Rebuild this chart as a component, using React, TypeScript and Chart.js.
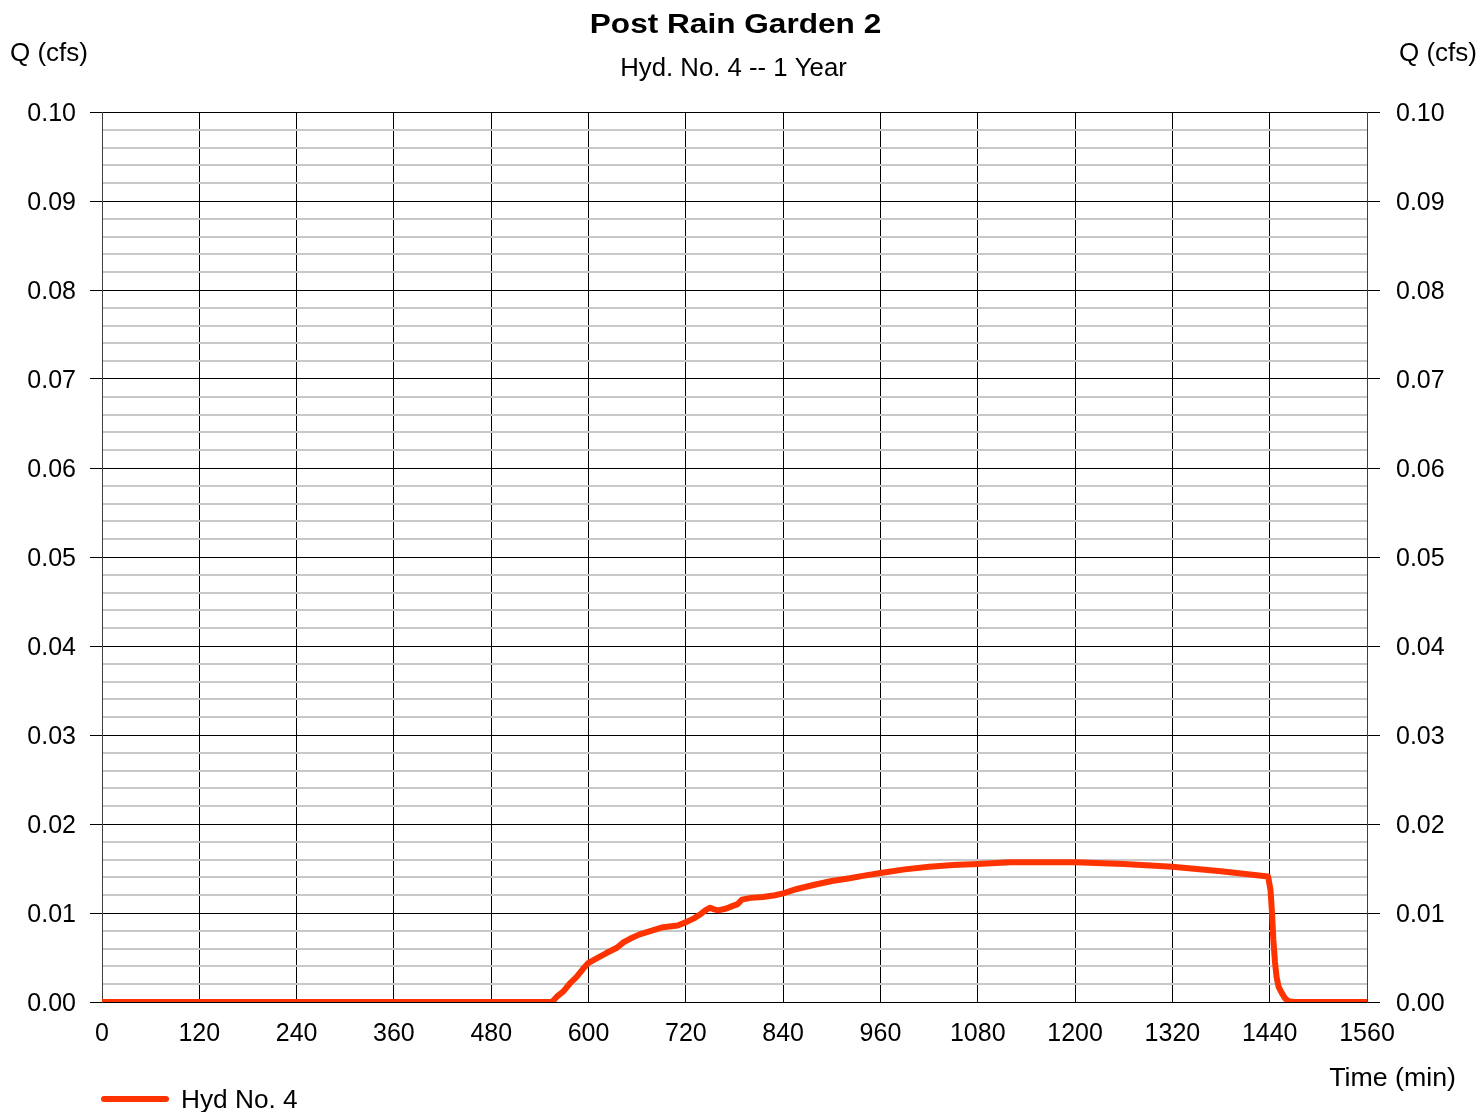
import React, { useEffect, useRef } from "react";
import { Chart, registerables } from "chart.js";

Chart.register(...registerables);

const chartTitle = "Post Rain Garden 2";
const chartSubtitle = "Hyd. No. 4 -- 1 Year";
const yAxisTitle = "Q (cfs)";
const xAxisTitle = "Time (min)";
const seriesLabel = "Hyd No. 4";

const xMin = 0;
const xMax = 1560;
const xStep = 120;
const yMin = 0;
const yMax = 0.1;
const yMinorStep = 0.002;

const timeMin = [
  0, 555, 562, 569, 577, 585, 593, 600, 610, 622, 635, 643, 651, 663, 677, 692,
  710, 721, 730, 737, 744, 750, 755, 760, 770, 778, 784, 789, 800, 815, 830, 840,
  857, 880, 900, 922, 940, 960, 990, 1020, 1050, 1080, 1120, 1157, 1200, 1260, 1320, 1380, 1438,
  1441, 1443, 1444.5, 1446.5, 1448.5, 1451, 1455, 1459, 1463, 1470, 1560,
];
const flowCfs = [
  0, 0, 0.0007, 0.0012, 0.0021, 0.0028, 0.0037, 0.0044, 0.0049, 0.0055, 0.0061,
  0.0067, 0.0071, 0.0076, 0.0080, 0.0084, 0.0086, 0.0090, 0.0094, 0.0098,
  0.0103, 0.0106, 0.0104, 0.0103, 0.0105, 0.0108, 0.0110, 0.0115, 0.0117,
  0.0118, 0.0120, 0.0122, 0.0127, 0.0132, 0.0136, 0.0139, 0.0142, 0.0145,
  0.0149, 0.0152, 0.0154, 0.0155, 0.0157, 0.0157, 0.0157, 0.0155, 0.0152, 0.0147, 0.0141,
  0.0126, 0.0098, 0.0070, 0.0045, 0.0028, 0.0017, 0.0010, 0.0004, 0.0001, 0, 0,
];

const lineColor = "#ff3300";
const FONT = "Arial, 'Liberation Sans', sans-serif";

const isMajor = (v: number) => Math.round(v * 1000) % 10 === 0;

const textPlugin = {
  id: "textPlugin",
  afterDraw(chart: any) {
    const ctx = chart.ctx as CanvasRenderingContext2D;
    const ca = chart.chartArea;
    const cx = (ca.left + ca.right) / 2;
    ctx.save();
    ctx.fillStyle = "#000";
    ctx.textBaseline = "middle";
    ctx.textAlign = "center";
    // title
    ctx.font = `bold 27px ${FONT}`;
    ctx.save();
    ctx.translate(cx + 1, ca.top - 86);
    ctx.scale(1.17, 1);
    ctx.fillText(chartTitle, 0, 0);
    ctx.restore();
    // subtitle
    ctx.font = `25px ${FONT}`;
    ctx.save();
    ctx.translate(cx - 1, ca.top - 43);
    ctx.scale(1.03, 1);
    ctx.fillText(chartSubtitle, 0, 0);
    ctx.restore();
    // y titles
    ctx.save();
    ctx.textAlign = "left";
    ctx.translate(10, ca.top - 58);
    ctx.scale(1.04, 1);
    ctx.fillText(yAxisTitle, 0, 0);
    ctx.restore();
    ctx.save();
    ctx.textAlign = "right";
    ctx.translate(chart.width - 1, ca.top - 58);
    ctx.scale(1.04, 1);
    ctx.fillText(yAxisTitle, 0, 0);
    ctx.restore();
    // x title
    ctx.save();
    ctx.textAlign = "right";
    ctx.translate(ca.right + 89, ca.bottom + 77);
    ctx.scale(1.07, 1);
    ctx.fillText(xAxisTitle, 0, 0);
    ctx.restore();
    // legend
    const ds = chart.data.datasets[0];
    const ly = ca.bottom + 97;
    ctx.strokeStyle = ds.borderColor;
    ctx.lineWidth = 6;
    ctx.lineCap = "round";
    ctx.beginPath();
    ctx.moveTo(ca.left + 2, ly);
    ctx.lineTo(ca.left + 64, ly);
    ctx.stroke();
    ctx.save();
    ctx.textAlign = "left";
    ctx.translate(ca.left + 79, ly + 2);
    ctx.scale(1.05, 1);
    ctx.fillText(ds.label, 0, 0);
    ctx.restore();
    ctx.restore();
  },
};

export default function App() {
  const ref = useRef<HTMLCanvasElement | null>(null);
  useEffect(() => {
    if (!ref.current) return;
    Chart.defaults.color = "#000";
    const points = timeMin.map((t, i) => ({ x: t, y: flowCfs[i] }));
    const yTicks = {
      stepSize: yMinorStep,
      autoSkip: false,
      labelOffset: 2,
      font: { family: FONT, size: 25 },
      color: "#000",
      callback: (v: any) => (isMajor(Number(v)) ? Number(v).toFixed(2) : ""),
    };
    const chart = new Chart(ref.current, {
      type: "line",
      data: {
        datasets: [
          {
            label: seriesLabel,
            data: points,
            borderColor: lineColor,
            backgroundColor: lineColor,
            borderWidth: 6,
            pointRadius: 0,
            tension: 0,
            borderCapStyle: "round",
            borderJoinStyle: "round",
          },
        ],
      },
      options: {
        animation: false,
        responsive: false,
        devicePixelRatio: 1,
        layout: { padding: { top: 112, left: 0, right: 0, bottom: 0 } },
        plugins: { legend: { display: false }, tooltip: { enabled: false }, title: { display: false } },
        scales: {
          x: {
            type: "linear",
            min: xMin,
            max: xMax,
            grid: { color: "#000", lineWidth: 1, drawTicks: false },
            border: { color: "#000", width: 1 },
            ticks: {
              stepSize: xStep,
              autoSkip: false,
              maxRotation: 0,
              padding: 17,
              font: { family: FONT, size: 25 },
              color: "#000",
              callback: (v: any) => String(Math.round(Number(v))),
            },
            afterFit: (s: any) => {
              s.height = 110;
            },
          },
          y: {
            type: "linear",
            position: "left",
            min: yMin,
            max: yMax,
            grid: {
              color: (c: any) => (isMajor(c.tick.value) ? "#000" : "#c8c8c8"),
              lineWidth: (c: any) => (isMajor(c.tick.value) ? 1 : 2),
              tickColor: (c: any) => (isMajor(c.tick.value) ? "#000" : "rgba(0,0,0,0)"),
              tickLength: 12,
              tickWidth: 1,
            },
            border: { color: "#404040", width: 1 },
            ticks: { ...yTicks, padding: 14 },
            afterFit: (s: any) => {
              s.width = 102;
            },
          },
          y2: {
            type: "linear",
            position: "right",
            min: yMin,
            max: yMax,
            grid: {
              drawOnChartArea: false,
              tickColor: (c: any) => (isMajor(c.tick.value) ? "#000" : "rgba(0,0,0,0)"),
              tickLength: 13,
              tickWidth: 1,
            },
            border: { color: "#404040", width: 1 },
            ticks: { ...yTicks, padding: 16 },
            afterFit: (s: any) => {
              s.width = 111;
            },
          },
        },
      } as any,
      plugins: [textPlugin],
    });
    return () => chart.destroy();
  }, []);
  return (
    <div style={{ position: "absolute", left: 0, top: 0, width: 1478, height: 1112, background: "#fff" }}>
      <canvas ref={ref} width={1478} height={1112} style={{ display: "block" }} />
    </div>
  );
}
